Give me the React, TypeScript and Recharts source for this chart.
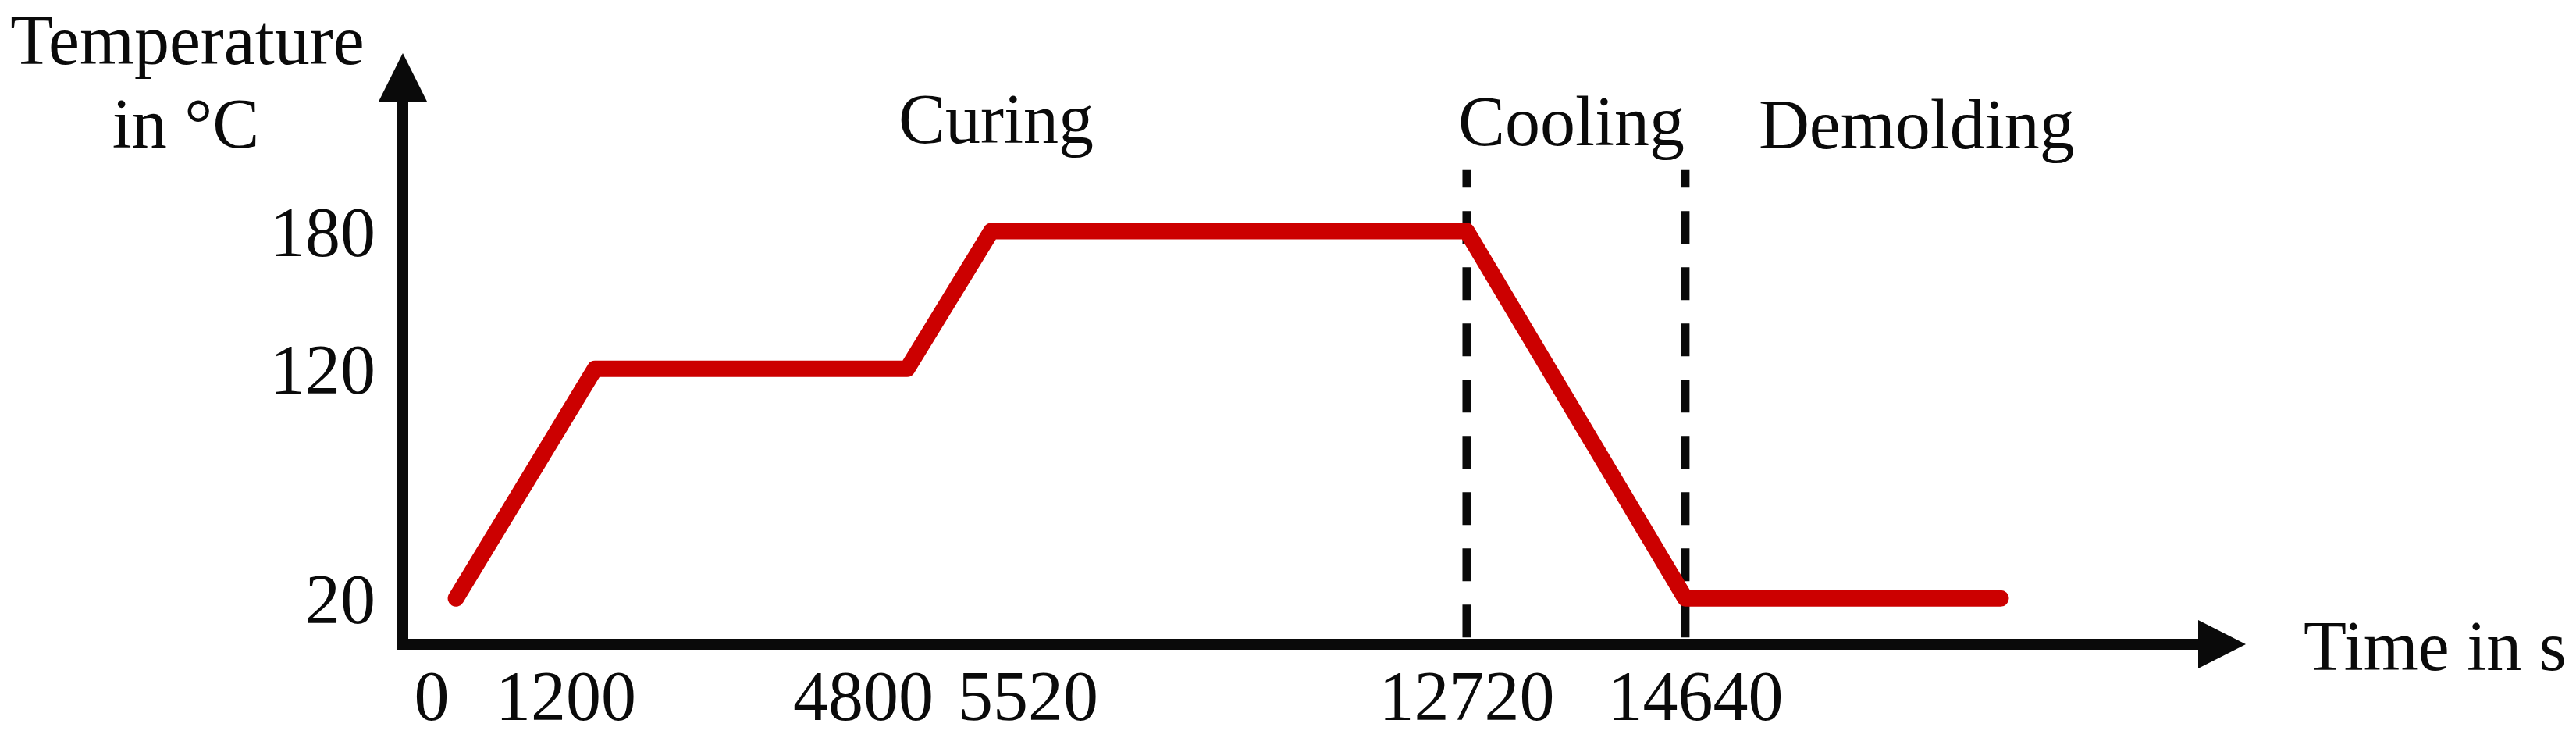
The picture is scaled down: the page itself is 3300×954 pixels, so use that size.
import React from "react";
import { LineChart, Line, XAxis, YAxis, ReferenceLine, ReferenceDot } from "recharts";

// cure cycle: time (s) -> mould temperature (°C)
const timeSeconds = [0, 1200, 4800, 5520, 12720, 14640, 18000];
const temperatureC = [20, 120, 120, 180, 180, 20, 20];
const timeTicks = [0, 1200, 4800, 5520, 12720, 14640];
const temperatureTicks = [20, 120, 180];
const phaseNames = ["Curing", "Cooling", "Demolding"];
const phaseBoundaries = [12720, 14640];

// the time axis in the figure is schematic, not to scale:
// every stop gets its own share of the axis length
const axisTimeStops = [-460, 0, 1200, 4800, 5520, 12720, 14640, 18000, 20100];
const axisStopShare = [0, 0.0296, 0.107, 0.2809, 0.3278, 0.5926, 0.7143, 0.89, 1];

// where the phase names sit (anchor time / temperature level of the baseline)
const phaseLabelSpots = [
  { x: 5520, y: 218.6, dx: 6, anchor: "middle" },
  { x: 12720, y: 217.4, dx: -11, anchor: "start" },
  { x: 14640, y: 216.1, dx: 94, anchor: "start" },
];

// tick labels in the original are pushed sideways a little so they don't collide
const timeTickNudge: Record<number, number> = { 0: -31, 1200: -37, 4800: -56, 5520: 47, 12720: 0, 14640: 13 };

const INK = "#0a0a0a";
const RED = "#cc0000";
const FONT = '"Liberation Serif", "Times New Roman", serif';
const FS = 90;

const chartData = timeSeconds.map((t, i) => ({ time: t, temp: temperatureC[i] }));

function stageScale(stops: number[], share: number[]) {
  let dom: number[] = [stops[0], stops[stops.length - 1]];
  let rng: number[] = [0, 1];
  const frac = (v: number) => {
    const n = stops.length;
    let i = 1;
    while (i < n - 1 && v > stops[i]) i++;
    const t = (v - stops[i - 1]) / (stops[i] - stops[i - 1]);
    return share[i - 1] + t * (share[i] - share[i - 1]);
  };
  const s: any = (v: number) => rng[0] + frac(Number(v)) * (rng[1] - rng[0]);
  s.domain = (d?: number[]) => {
    if (d === undefined) return dom;
    dom = d;
    return s;
  };
  s.range = (r?: number[]) => {
    if (r === undefined) return rng;
    rng = r;
    return s;
  };
  s.copy = () => stageScale(stops, share).domain(dom).range(rng);
  s.ticks = () => timeTicks;
  s.invert = (px: number) => {
    const f = (px - rng[0]) / (rng[1] - rng[0]);
    let i = 1;
    while (i < share.length - 1 && f > share[i]) i++;
    const t = (f - share[i - 1]) / (share[i] - share[i - 1]);
    return stops[i - 1] + t * (stops[i] - stops[i - 1]);
  };
  return s;
}

const timeScale = stageScale(axisTimeStops, axisStopShare);

const TimeTick = ({ x, y, payload }: any) => (
  <text
    x={x + (timeTickNudge[payload.value] ?? 0)}
    y={y}
    dy="0.71em"
    textAnchor="middle"
    fontSize={FS}
    fontFamily={FONT}
    fill={INK}
  >
    {payload.value}
  </text>
);

const UpArrow = ({ cx, cy }: any) => (
  <g>
    <polygon points={`${cx - 31},${cy} ${cx},${cy - 62} ${cx + 31},${cy}`} fill={INK} />
    <text x={cx - 276} y={cy - 48} textAnchor="middle" fontSize={FS} fontFamily={FONT} fill={INK}>
      Temperature
    </text>
    <text x={cx - 278} y={cy + 59} textAnchor="middle" fontSize={FS} fontFamily={FONT} fill={INK}>
      in °C
    </text>
  </g>
);

const RightArrow = ({ cx, cy }: any) => (
  <g>
    <polygon points={`${cx},${cy - 31} ${cx + 61},${cy} ${cx},${cy + 31}`} fill={INK} />
    <text x={cx + 135} y={cy + 33} textAnchor="start" fontSize={FS} fontFamily={FONT} fill={INK}>
      Time in s
    </text>
  </g>
);

export default function App() {
  return (
    <div
      style={{ position: "absolute", left: 0, top: 0, width: 3300, height: 954, background: "#fff", fontFamily: FONT }}
    >
      <LineChart width={3300} height={954} data={chartData} margin={{ top: 130, right: 484, bottom: 0, left: 0 }}>
        <XAxis
          type="number"
          dataKey="time"
          scale={timeScale}
          domain={[axisTimeStops[0], axisTimeStops[axisTimeStops.length - 1]]}
          allowDataOverflow
          ticks={timeTicks}
          interval={0}
          height={129}
          tickLine={false}
          tickSize={0}
          tickMargin={33}
          axisLine={{ stroke: INK, strokeWidth: 14, strokeLinecap: "square" }}
          tick={<TimeTick />}
        />
        <YAxis
          type="number"
          domain={[0, 236.5]}
          allowDataOverflow
          ticks={temperatureTicks}
          interval={0}
          width={516}
          tickLine={false}
          tickSize={0}
          tickMargin={35}
          axisLine={{ stroke: INK, strokeWidth: 14, strokeLinecap: "square" }}
          tick={{ fill: INK, fontSize: FS, fontFamily: FONT }}
        />
        {phaseBoundaries.map((t) => (
          <ReferenceLine
            key={t}
            segment={[
              { x: t, y: 3 },
              { x: t, y: 206.6 },
            ]}
            stroke={INK}
            strokeWidth={11}
            strokeDasharray="42 30"
            ifOverflow="visible"
          />
        ))}
        <Line
          type="linear"
          dataKey="temp"
          stroke={RED}
          strokeWidth={21}
          strokeLinecap="round"
          strokeLinejoin="round"
          dot={false}
          activeDot={false}
          isAnimationActive={false}
        />
        {phaseNames.map((name, i) => {
          const spot = phaseLabelSpots[i];
          return (
            <ReferenceDot
              key={name}
              x={spot.x}
              y={spot.y}
              r={0}
              ifOverflow="visible"
              shape={({ cx, cy }: any) => (
                <text
                  x={cx + spot.dx}
                  y={cy}
                  textAnchor={spot.anchor as any}
                  fontSize={FS}
                  fontFamily={FONT}
                  fill={INK}
                >
                  {name}
                </text>
              )}
            />
          );
        })}
        <ReferenceDot
          x={axisTimeStops[0]}
          y={236.5}
          r={0}
          ifOverflow="visible"
          shape={(p: any) => <UpArrow {...p} />}
        />
        <ReferenceDot
          x={axisTimeStops[axisTimeStops.length - 1]}
          y={0}
          r={0}
          ifOverflow="visible"
          shape={(p: any) => <RightArrow {...p} />}
        />
      </LineChart>
    </div>
  );
}
